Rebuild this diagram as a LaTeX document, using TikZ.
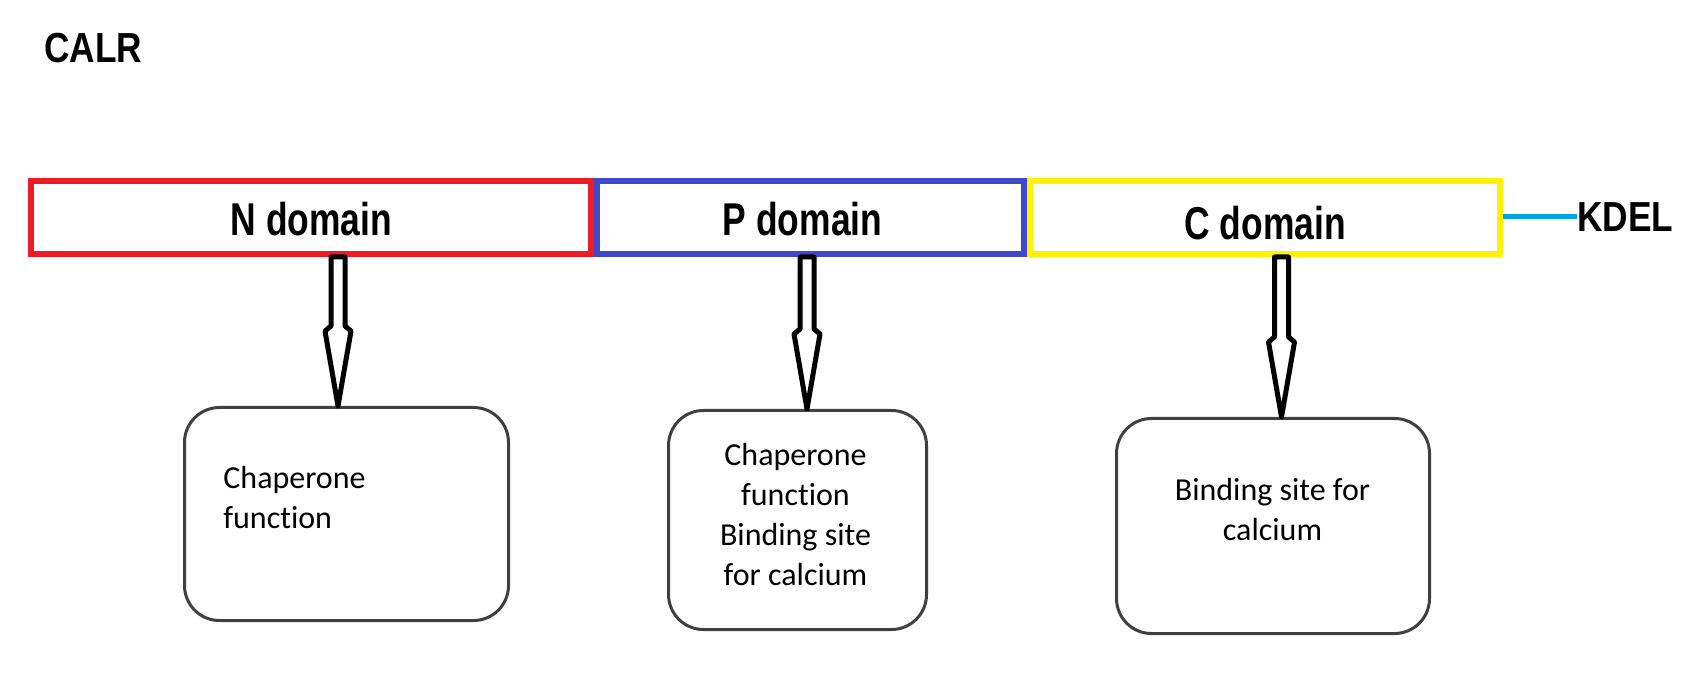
\documentclass[tikz,border=0pt]{standalone}
\usepackage{fontspec}
\setmainfont[Ligatures=NoCommon]{Carlito}
\newfontfamily\labdom[FakeStretch=0.77]{Liberation Sans Bold}
\newfontfamily\labtit[FakeStretch=0.84]{Liberation Sans Bold}
\usetikzlibrary{calc}
\definecolor{dred}{HTML}{ED1C24}
\definecolor{dblue}{HTML}{3F48CC}
\definecolor{dyellow}{HTML}{FFF200}
\definecolor{kcyan}{HTML}{00A2E8}
\definecolor{boxgray}{HTML}{404040}
\tikzset{
  dombox/.style={draw, line width=3pt, minimum height=36.5pt, inner sep=0pt},
  domlab/.style={font=\labdom\fontsize{23pt}{27pt}\selectfont, inner sep=0pt},
  titlab/.style={font=\labtit\fontsize{21pt}{25pt}\selectfont, inner sep=0pt},
  funbox/.style={draw=boxgray, line width=1.5pt, rounded corners=17.5pt, inner sep=0pt},
  funtext/.style={font=\fontsize{16pt}{20pt}\selectfont, inner sep=0pt, text=black},
  harrowline/.style={draw=black, fill=white, line width=2.5pt, line join=round},
  kdelline/.style={draw=kcyan, line width=2.5pt},
}
\newcommand\harrow[2]{%
  \draw[harrowline] ($(#1)+(-7,0)$) -- ($(#2)+(-7,-80)$) -- ($(#2)+(-13,-75)$) --
    (#2) -- ($(#2)+(13,-75)$) -- ($(#2)+(7,-80)$) -- ($(#1)+(7,0)$) -- cycle;}
\begin{document}
\begin{tikzpicture}[x=0.5pt,y=-0.5pt]
  \useasboundingbox[fill=white] (0,0) rectangle (1700,683);
  % title
  \node[titlab, anchor=west] (calr) at (44,48) {CALR};
  % domain boxes
  \node[dombox, draw=dred, minimum width=280pt] (nN) at (311,217.5) {};
  \node[dombox, draw=dblue, minimum width=213.5pt] (nP) at (810.5,217.5) {};
  \node[dombox, draw=dyellow, minimum width=235pt] (nC) at (1265,217.5) {};
  \node[domlab] (lN) at (311.5,219.5) {N domain};
  \node[domlab] (lP) at (802.5,219) {P domain};
  \node[domlab] (lC) at (1265,223) {C domain};
  % KDEL
  \node[titlab, anchor=west] (kdel) at (1577,217) {KDEL};
  \draw[kdelline] (nC.east |- kdel.west) -- (kdel.west);
  % function boxes
  \node[funbox, minimum width=162pt, minimum height=106.5pt] (fN) at (346.5,514) {};
  \node[funbox, minimum width=129pt, minimum height=109.5pt] (fP) at (797.5,520) {};
  \node[funbox, minimum width=156.5pt, minimum height=107.5pt] (fC) at (1273,526) {};
  % arrows
  \coordinate (aN) at (338,0);
  \coordinate (aP) at (807,0);
  \coordinate (aC) at (1281.5,0);
  \coordinate (tN) at (aN |- nN.south);
  \coordinate (bN) at (aN |- fN.north);
  \coordinate (tP) at (aP |- nP.south);
  \coordinate (bP) at (aP |- fP.north);
  \coordinate (tC) at (aC |- nC.south);
  \coordinate (bC) at (aC |- fC.north);
  \harrow{tN}{bN}
  \harrow{tP}{bP}
  \harrow{tC}{bC}
  % function texts (anchor at baseline of last line)
  \node[funtext, anchor=base west, align=left] (xN) at (223,528) {Chaperone\\function};
  \node[funtext, anchor=base, align=center] (xP) at (795.5,585) {Chaperone\\function\\Binding site\\for calcium};
  \node[funtext, anchor=base, align=center] (xC) at (1272.5,540) {Binding site for\\calcium};
\end{tikzpicture}
\end{document}
